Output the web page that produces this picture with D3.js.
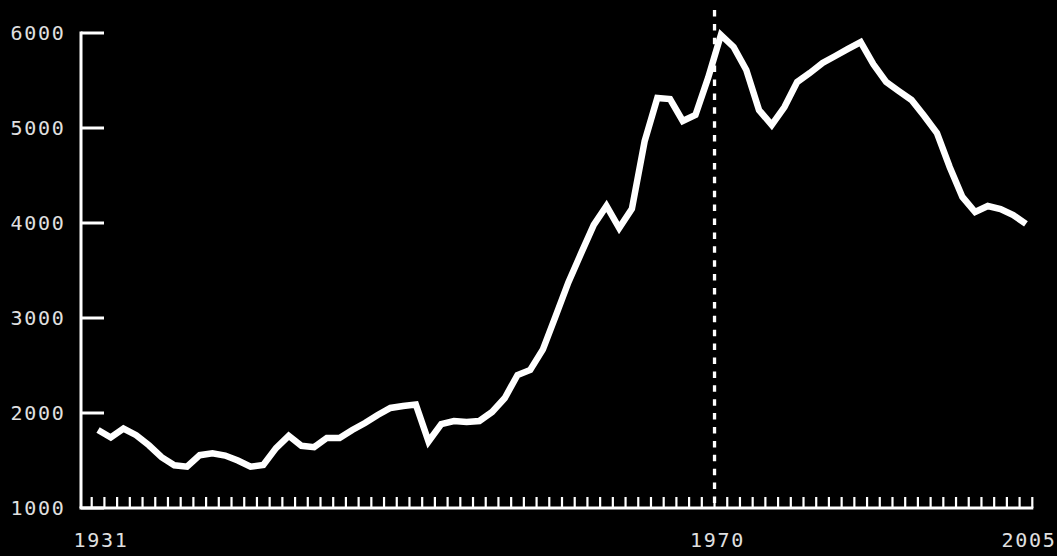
<!DOCTYPE html>
<html>
<head>
<meta charset="utf-8">
<script src="https://cdn.jsdelivr.net/npm/d3@7"></script>
<style>
html,body{margin:0;padding:0;background:#000;}
svg{display:block;}
</style>
</head>
<body>
<svg id="chart" width="1057" height="556"></svg>
<script>
// ---- data ----
const values = [
  1821, 1742, 1836, 1766, 1660, 1535, 1450, 1435, 1556, 1576,
  1552, 1500, 1435, 1453, 1630, 1760, 1655, 1640, 1737, 1737,
  1821, 1895, 1979, 2053, 2074, 2090, 1700, 1884, 1916, 1905,
  1916, 2011, 2158, 2400, 2453, 2670, 3020, 3375, 3680, 3980,
  4179, 3947, 4150, 4860, 5316, 5305, 5074, 5137, 5530, 5979,
  5853, 5611, 5189, 5032, 5221, 5484, 5579, 5684, 5758, 5832,
  5905, 5670, 5484, 5389, 5295, 5126, 4947, 4590, 4274, 4116,
  4179, 4147, 4084, 3990
];
const yTicks = [1000, 2000, 3000, 4000, 5000, 6000];
const xLabels = ["1931", "1970", "2005"];
const xLabelPos = [0.5, 49, 73.5];   // position along the index axis
const markerPos = 49;                  // dashed reference line

// ---- scales ----
const svg = d3.select("#chart");
const n = values.length;
const x = d3.scaleLinear().domain([0, n]).range([91.7, 1032.3]);
const y = d3.scaleLinear().domain([1000, 6000]).range([508, 33]);
const axisX = 81;

// dashed marker
svg.append("line")
  .attr("x1", x(markerPos)).attr("x2", x(markerPos))
  .attr("y1", 10).attr("y2", y(1000))
  .attr("stroke", "#fff").attr("stroke-width", 3.3)
  .attr("stroke-dasharray", "6.5,7.4");

// x ticks (band edges)
svg.append("g").selectAll("line")
  .data(d3.range(n + 1))
  .join("line")
  .attr("x1", d => x(d)).attr("x2", d => x(d))
  .attr("y1", y(1000)).attr("y2", y(1000) - 11)
  .attr("stroke", "#fff").attr("stroke-width", 2.2);

// x axis line
svg.append("line")
  .attr("x1", axisX - 1.5).attr("x2", x(n) + 1)
  .attr("y1", y(1000)).attr("y2", y(1000))
  .attr("stroke", "#fff").attr("stroke-width", 3);

// y axis line
svg.append("line")
  .attr("x1", axisX).attr("x2", axisX)
  .attr("y1", y(6000) - 1.5).attr("y2", y(1000))
  .attr("stroke", "#fff").attr("stroke-width", 3);

// y ticks
svg.append("g").selectAll("line")
  .data(yTicks)
  .join("line")
  .attr("x1", axisX).attr("x2", axisX + 23)
  .attr("y1", d => y(d)).attr("y2", d => y(d))
  .attr("stroke", "#fff").attr("stroke-width", 3);

// y labels
svg.append("g").selectAll("text")
  .data(yTicks)
  .join("text")
  .attr("x", 65.5)
  .attr("y", d => y(d))
  .attr("text-anchor", "end")
  .attr("dominant-baseline", "central")
  .attr("font-family", "'DejaVu Sans Mono', monospace")
  .attr("font-size", 20)
  .attr("letter-spacing", "1.7px")
  .attr("fill", "#e0e0e0")
  .text(d => d);

// x labels
svg.append("g").selectAll("text")
  .data(xLabels)
  .join("text")
  .attr("x", (d, i) => x(xLabelPos[i]) + 3)
  .attr("y", 547)
  .attr("text-anchor", "middle")
  .attr("font-family", "'DejaVu Sans Mono', monospace")
  .attr("font-size", 20)
  .attr("letter-spacing", "1.7px")
  .attr("fill", "#e0e0e0")
  .text(d => d);

// data line
const line = d3.line()
  .x((d, i) => x(i + 0.5))
  .y(d => y(d));
svg.append("path")
  .datum(values)
  .attr("d", line)
  .attr("fill", "none")
  .attr("stroke", "#fff")
  .attr("stroke-width", 6.5)
  .attr("stroke-linejoin", "miter");
</script>
</body>
</html>
